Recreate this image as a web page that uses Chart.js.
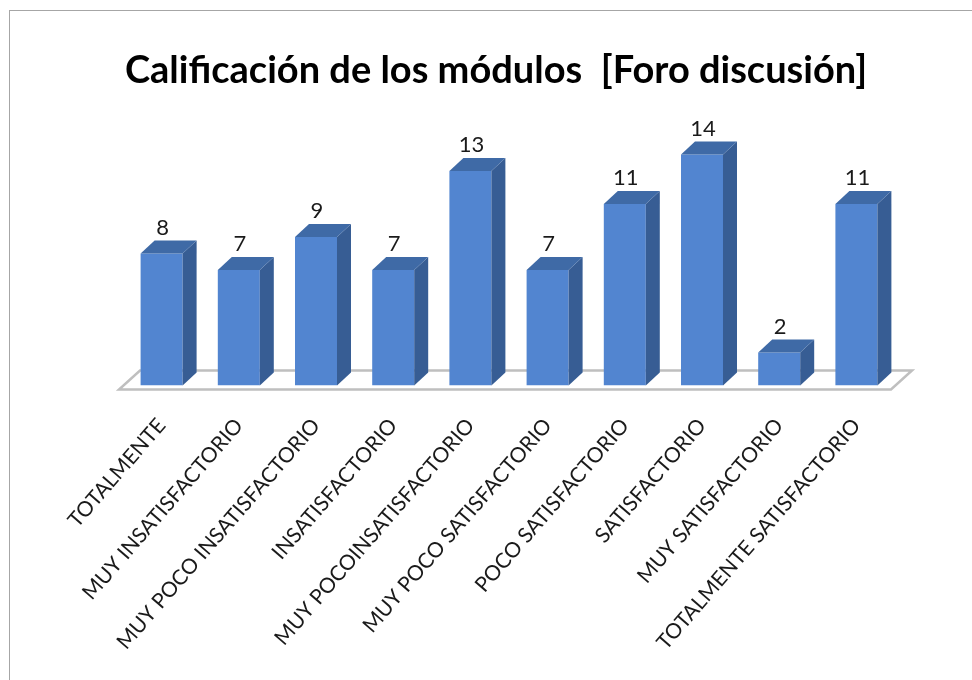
<!DOCTYPE html>
<html>
<head>
<meta charset="utf-8">
<title>Calificación de los módulos</title>
<script src="https://cdn.jsdelivr.net/npm/chart.js@4/dist/chart.umd.js"></script>
<style>
  body { margin: 0; background: #fff; }
  #wrap { position: relative; width: 972px; height: 680px; overflow: hidden; }
  #frame { position: absolute; left: 9px; top: 10px; width: 970px; height: 680px; border: 1px solid #a6a6a6; pointer-events: none; }
</style>
</head>
<body>
<div id="wrap">
  <canvas id="chart" width="972" height="680"></canvas>
  <div id="frame"></div>
</div>
<script>
const categories = [
  'TOTALMENTE',
  'MUY INSATISFACTORIO',
  'MUY POCO INSATISFACTORIO',
  'INSATISFACTORIO',
  'MUY POCOINSATISFACTORIO',
  'MUY POCO SATISFACTORIO',
  'POCO SATISFACTORIO',
  'SATISFACTORIO',
  'MUY SATISFACTORIO',
  'TOTALMENTE SATISFACTORIO'
];
const values = [8, 7, 9, 7, 13, 7, 11, 14, 2, 11];
const chartTitle = 'Calificación de los módulos  [Foro discusión]';

// Fake 3D look: depth of the columns and the floor
const depthX = 14;
const depthY = 13;

const floorPlugin = {
  id: 'floor',
  beforeDatasetsDraw(chart) {
    const { ctx, chartArea } = chart;
    const base = chartArea.bottom;
    ctx.save();
    ctx.strokeStyle = '#bfbfbf';
    ctx.lineWidth = 2.5;
    ctx.fillStyle = '#ffffff';
    ctx.beginPath();
    ctx.moveTo(chartArea.left - 4, base + 4);
    ctx.lineTo(chartArea.right - 4, base + 4);
    ctx.lineTo(chartArea.right + 17, base - 15);
    ctx.lineTo(chartArea.left + 17, base - 15);
    ctx.closePath();
    ctx.fill();
    ctx.stroke();
    ctx.restore();
  }
};

const columnPlugin = {
  id: 'columns',
  afterDatasetsDraw(chart) {
    const { ctx } = chart;
    const meta = chart.getDatasetMeta(0);
    ctx.save();
    meta.data.forEach((bar, i) => {
      const right = bar.x + bar.width / 2;
      const left = bar.x - bar.width / 2;
      // side face
      ctx.fillStyle = '#375d94';
      ctx.beginPath();
      ctx.moveTo(right, bar.y);
      ctx.lineTo(right + depthX, bar.y - depthY);
      ctx.lineTo(right + depthX, bar.base - depthY);
      ctx.lineTo(right, bar.base);
      ctx.closePath();
      ctx.fill();
      // top face
      ctx.fillStyle = '#3f6aa6';
      ctx.beginPath();
      ctx.moveTo(left, bar.y);
      ctx.lineTo(left + depthX, bar.y - depthY);
      ctx.lineTo(right + depthX, bar.y - depthY);
      ctx.lineTo(right, bar.y);
      ctx.closePath();
      ctx.fill();
      // value label
      ctx.fillStyle = '#1a1a1a';
      ctx.font = '22px Lato';
      ctx.textAlign = 'center';
      ctx.textBaseline = 'middle';
      ctx.fillText(values[i], bar.x + 1, bar.y - 26);
    });
    ctx.restore();
  }
};

const chart = new Chart(document.getElementById('chart').getContext('2d'), {
  type: 'bar',
  data: {
    labels: categories,
    datasets: [{
      data: values,
      backgroundColor: '#5285d0',
      borderColor: '#5285d0',
      borderWidth: 0,
      barPercentage: 0.544,
      categoryPercentage: 1
    }]
  },
  options: {
    responsive: false,
    animation: false,
    // left padding keeps the title centred where the original has it
    layout: { padding: { left: 20, right: 0, top: 0, bottom: 0 } },
    plugins: {
      legend: { display: false },
      tooltip: { enabled: false },
      title: {
        display: true,
        text: chartTitle,
        color: '#000000',
        font: { family: 'Lato', size: 38, weight: 'bold' },
        padding: { top: 48, bottom: 28 }
      }
    },
    scales: {
      x: {
        grid: { display: false },
        border: { display: false },
        afterFit(scale) { scale.height = 294.5; },
        ticks: {
          autoSkip: false,
          maxRotation: 49,
          minRotation: 49,
          padding: 20,
          color: '#1a1a1a',
          font: { family: 'Lato', size: 21 }
        }
      },
      y: {
        min: 0,
        max: 16,
        grid: { display: false },
        border: { display: false },
        ticks: { display: false },
        afterFit(scale) { scale.width = 103; }
      },
      // empty axis, only reserves the space on the right
      yRight: {
        position: 'right',
        grid: { display: false },
        border: { display: false },
        ticks: { display: false },
        afterFit(scale) { scale.width = 77; }
      }
    }
  },
  plugins: [floorPlugin, columnPlugin]
});
</script>
</body>
</html>
